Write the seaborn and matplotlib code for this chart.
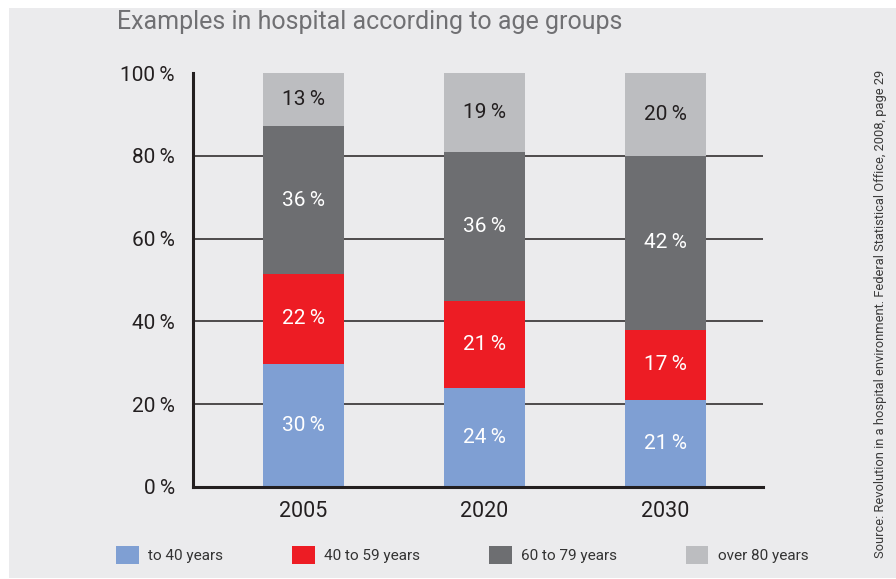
import numpy as np
import pandas as pd
import matplotlib
matplotlib.use("Agg")
import matplotlib.pyplot as plt
from matplotlib.patches import Patch, Rectangle
import seaborn as sns

# Share of hospital cases by age group (%)
years = ["2005", "2020", "2030"]
groups = ["to 40 years", "40 to 59 years", "60 to 79 years", "over 80 years"]
to_40 = [30, 24, 21]
age_40_59 = [22, 21, 17]
age_60_79 = [36, 36, 42]
over_80 = [13, 19, 20]

colors = ["#7f9fd3", "#ed1c24", "#6d6e71", "#bcbdc0"]
label_colors = ["white", "white", "white", "#231f20"]
bg = "#ebebed"
ink = "#231f20"

sns.set_style("white")
plt.rcParams["font.family"] = ["Roboto", "DejaVu Sans"]

df = pd.DataFrame(
    {"year": years, groups[0]: to_40, groups[1]: age_40_59,
     groups[2]: age_60_79, groups[3]: over_80}
)
# bars are drawn as shares of 100 %
totals = df[groups].sum(axis=1)
shares = df[groups].div(totals, axis=0) * 100
cum = shares.cumsum(axis=1)

fig = plt.figure(figsize=(8.96, 5.79), dpi=100, facecolor="white")
fig.patches.append(Rectangle((9 / 896, 1 / 579), 1 - 9 / 896, 570 / 579,
                             transform=fig.transFigure, facecolor=bg,
                             edgecolor="none", zorder=-10))
ax = fig.add_axes([193 / 896, 92 / 579, 570 / 896, 414 / 579])
ax.set_facecolor(bg)

# stacked bars: paint the cumulative totals from the top segment down
for i in range(len(groups) - 1, -1, -1):
    sns.barplot(x=df["year"], y=cum[groups[i]], color=colors[i], width=0.45,
                saturation=1, errorbar=None, linewidth=0, ax=ax, zorder=3)

for i, g in enumerate(groups):
    mids = cum[g] - shares[g] / 2
    for j, v in enumerate(df[g]):
        ax.text(j, mids.iloc[j], f"{v}\u2009%", ha="center", va="center",
                fontsize=15, color=label_colors[i], zorder=5)

for yv in [20, 40, 60, 80]:
    ax.axhline(yv, color=ink, lw=1.1, zorder=1)

ax.set_ylim(0, 100)
ax.set_xlim(-0.61, 2.54)
ax.set_yticks([0, 20, 40, 60, 80, 100])
ax.set_yticklabels([f"{t}\u2009%" for t in [0, 20, 40, 60, 80, 100]])
ax.set_xlabel("")
ax.set_ylabel("")
ax.tick_params(axis="y", length=0, pad=13, labelsize=15, labelcolor=ink)
ax.tick_params(axis="x", length=0, pad=10, labelsize=15.5, labelcolor=ink)
sns.despine(ax=ax)
for s in ["left", "bottom"]:
    ax.spines[s].set_color(ink)
    ax.spines[s].set_linewidth(2.2)
    ax.spines[s].set_zorder(6)

fig.text(117 / 896, 557 / 579, "Examples in hospital according to age groups",
         fontsize=18, color="#707073", ha="left", va="center")

handles = [Patch(facecolor=c, edgecolor="none") for c in colors]
fig.legend(handles, groups, loc="center left", bbox_to_anchor=(116 / 896, 24 / 579),
           ncol=4, frameon=False, fontsize=11, handlelength=1.5, handleheight=1.5,
           handletextpad=0.6, columnspacing=4.5, borderpad=0, borderaxespad=0,
           labelcolor="#333333")

fig.text(880 / 896, 265 / 579,
         "Source: Revolution in a hospital environment. Federal Statistical Office, 2008, page 29",
         rotation=90, fontsize=9.3, color="#3a3a3a", ha="center", va="center")

fig.savefig("out.png", dpi=100, facecolor="white")
